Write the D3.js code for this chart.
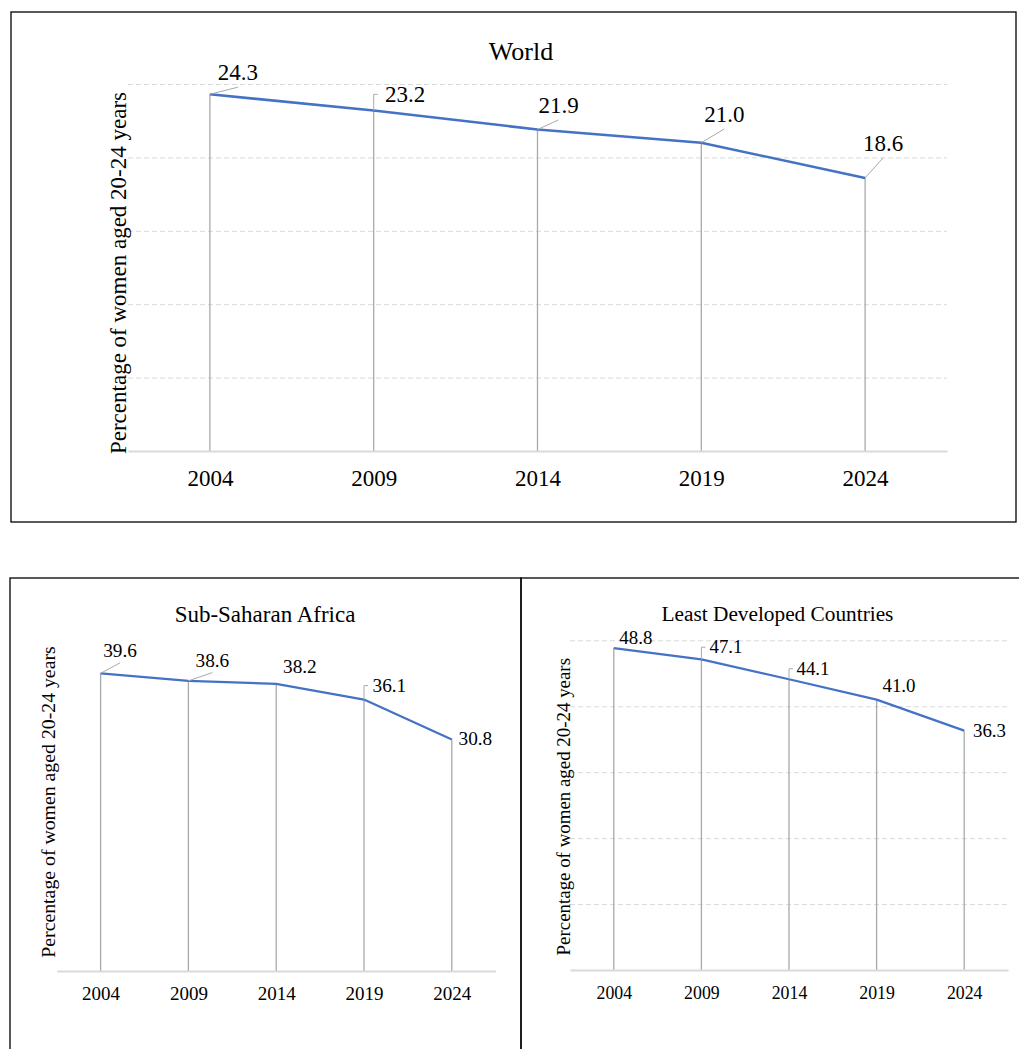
<!DOCTYPE html>
<html>
<head>
<meta charset="utf-8">
<script src="https://cdn.jsdelivr.net/npm/d3@7"></script>
<style>
  html, body { margin: 0; padding: 0; background: #fff; }
  svg { display: block; }
  text { font-family: "Liberation Serif", "Times New Roman", serif; fill: #000; }
</style>
</head>
<body>
<svg id="chart" width="1019" height="1049"></svg>
<script>
// Child marriage: share of women aged 20-24 first married before age 18
const years = ["2004", "2009", "2014", "2019", "2024"];
const worldValues = [24.3, 23.2, 21.9, 21.0, 18.6];
const ssaValues = [39.6, 38.6, 38.2, 36.1, 30.8];
const ldcValues = [48.8, 47.1, 44.1, 41.0, 36.3];
const panelTitles = ["World", "Sub-Saharan Africa", "Least Developed Countries"];
const yAxisTitle = "Percentage of women aged 20-24 years";

// Panel layout: frame, plot area, y-domain, typography, and label placement
// (label offsets are relative to the point: [dx of text centre, dy of baseline, leader style])
const panels = [
  {
    title: panelTitles[0], values: worldValues,
    frame: [11, 12, 1005, 510],
    plot: { left: 128, right: 947, top: 84, bottom: 451 },
    yMax: 25, gridStep: 5, grid: true,
    titlePos: [521, 60], titleSize: 26,
    yTitlePos: [126, 273], yTitleSize: 23,
    yearBaseline: 486, yearSize: 23,
    labelSize: 23, lineWidth: 2.6,
    labels: [[28, -14, "diag"], [31.5, -8.5, "elbow"], [21, -16.5, "diag"], [23, -20.7, "diag"], [18, -27, "diag"]]
  },
  {
    title: panelTitles[1], values: ssaValues,
    frame: [10, 578, 511, 500],
    plot: { left: 56.7, right: 495.7, top: 632.7, bottom: 971 },
    yMax: 45, gridStep: 5, grid: false,
    titlePos: [265, 622], titleSize: 23,
    yTitlePos: [54.5, 802], yTitleSize: 19.8,
    yearBaseline: 1000, yearSize: 19,
    labelSize: 19.3, lineWidth: 2.2,
    labels: [[19.5, -16.3, "diag"], [24, -14, "diag"], [23.7, -11, "none"], [25.4, -7.6, "elbow"], [23.6, 5.5, "none"]]
  },
  {
    title: panelTitles[2], values: ldcValues,
    frame: [521, 578, 520, 500],
    plot: { left: 570, right: 1008, top: 640.3, bottom: 970 },
    yMax: 50, gridStep: 10, grid: true,
    titlePos: [777.5, 621], titleSize: 21.3,
    yTitlePos: [569.5, 806.7], yTitleSize: 18.9,
    yearBaseline: 999, yearSize: 17.8,
    labelSize: 18.9, lineWidth: 2.2,
    labels: [[22, -4.2, "none"], [24.6, -6, "elbow"], [24, -4.2, "elbow"], [22.4, -8, "none"], [25.3, 6, "none"]]
  }
];

const svg = d3.select("#chart");
const lineBlue = "#4472c4";
const dropGray = "#a9a9a9";
const lightGray = "#d9d9d9";

// Panel frames
panels.forEach(p => {
  svg.append("rect")
    .attr("x", p.frame[0]).attr("y", p.frame[1])
    .attr("width", p.frame[2]).attr("height", p.frame[3])
    .attr("fill", "none").attr("stroke", "#000").attr("stroke-width", 1.3);
});

panels.forEach(p => {
  const g = svg.append("g");
  const x = d3.scalePoint().domain(years).range([p.plot.left, p.plot.right]).padding(0.5);
  const y = d3.scaleLinear().domain([0, p.yMax]).range([p.plot.bottom, p.plot.top]);

  // Dashed horizontal gridlines
  if (p.grid) {
    const gridTicks = d3.range(p.gridStep, p.yMax + p.gridStep / 2, p.gridStep);
    g.append("g")
      .attr("transform", `translate(${p.plot.left},0)`)
      .call(d3.axisLeft(y).tickValues(gridTicks).tickSize(-(p.plot.right - p.plot.left)).tickFormat(""))
      .call(a => a.select(".domain").remove())
      .call(a => a.selectAll(".tick line")
        .attr("stroke", lightGray).attr("stroke-width", 1).attr("stroke-dasharray", "5,3"));
  }

  // Drop lines from each point to the category axis
  g.selectAll(".drop").data(p.values).join("line")
    .attr("x1", (d, i) => x(years[i])).attr("x2", (d, i) => x(years[i]))
    .attr("y1", d => y(d)).attr("y2", y(0))
    .attr("stroke", dropGray).attr("stroke-width", 1.3);

  // Category axis with year labels
  const xAxis = g.append("g")
    .attr("transform", `translate(0,${y(0)})`)
    .call(d3.axisBottom(x).tickSize(0).tickSizeOuter(0));
  xAxis.select(".domain").attr("stroke", lightGray).attr("stroke-width", 2);
  xAxis.selectAll(".tick text")
    .attr("y", p.yearBaseline - y(0)).attr("dy", null)
    .style("font-family", '"Liberation Serif", "Times New Roman", serif')
    .style("font-size", p.yearSize + "px").attr("fill", "#000");

  // Series line
  g.append("path")
    .datum(p.values)
    .attr("fill", "none").attr("stroke", lineBlue)
    .attr("stroke-width", p.lineWidth).attr("stroke-linejoin", "round")
    .attr("d", d3.line().x((d, i) => x(years[i])).y(d => y(d)));

  // Data labels with leader lines
  p.values.forEach((v, i) => {
    const px = x(years[i]), py = y(v);
    const [dx, dy, kind] = p.labels[i];
    const cx = px + dx, by = py + dy;
    if (kind === "diag") {
      g.append("line")
        .attr("x1", px).attr("y1", py).attr("x2", cx).attr("y2", by + p.labelSize * 0.3)
        .attr("stroke", dropGray).attr("stroke-width", 1);
    } else if (kind === "elbow") {
      const top = by - p.labelSize * 0.33;
      g.append("path")
        .attr("d", `M${px},${py}V${top}H${px + 4}`)
        .attr("fill", "none").attr("stroke", dropGray).attr("stroke-width", 1);
    }
    g.append("text")
      .attr("x", cx).attr("y", by)
      .attr("text-anchor", "middle")
      .style("font-size", p.labelSize + "px")
      .text(v.toFixed(1));
  });

  // Panel title
  g.append("text")
    .attr("x", p.titlePos[0]).attr("y", p.titlePos[1])
    .attr("text-anchor", "middle")
    .style("font-size", p.titleSize + "px")
    .text(p.title);

  // Vertical axis title
  g.append("text")
    .attr("transform", `translate(${p.yTitlePos[0]},${p.yTitlePos[1]}) rotate(-90)`)
    .attr("text-anchor", "middle")
    .style("font-size", p.yTitleSize + "px")
    .text(yAxisTitle);
});
</script>
</body>
</html>
